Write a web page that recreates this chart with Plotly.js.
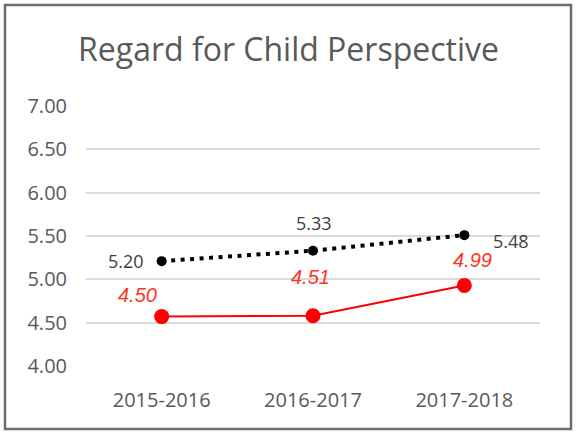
<!DOCTYPE html>
<html>
<head>
<meta charset="utf-8">
<script src="https://cdn.plot.ly/plotly-3.0.1.min.js"></script>
<style>
html,body{margin:0;padding:0;background:#fff;}
#chart{width:577px;height:433px;}
</style>
</head>
<body>
<div id="chart"></div>
<script>
// ---- data ----
const categories = ['2015-2016', '2016-2017', '2017-2018'];
const blackValues = [5.21, 5.33, 5.51];
const blackLabels = ['5.20', '5.33', '5.48'];
const redValues = [4.57, 4.58, 4.93];
const redLabels = ['4.50', '4.51', '4.99'];
const yTickVals = [4.0, 4.5, 5.0, 5.5, 6.0, 6.5, 7.0];
const yTickText = ['4.00', '4.50', '5.00', '5.50', '6.00', '6.50', '7.00'];
const chartTitle = 'Regard for Child Perspective';

// ---- layout geometry ----
const W = 577, H = 433;
const M = {l: 86, r: 37, t: 106, b: 67};
const PW = W - M.l - M.r, PH = H - M.t - M.b;
const px2x = p => (p - M.l) / PW;
const px2y = p => (H - M.b - p) / PH;

const blackShift = [[-36, 0], [1, 28], [47, -6]];
const redShift = [[-24, 22], [-3, 39], [8, 25]];

const annotations = [];
categories.forEach((c, i) => {
  annotations.push({
    x: c, y: blackValues[i], xref: 'x', yref: 'y', text: blackLabels[i],
    showarrow: false, xshift: blackShift[i][0], yshift: blackShift[i][1],
    font: {family: 'Open Sans', size: 18, color: '#404040'}
  });
  annotations.push({
    x: c, y: redValues[i], xref: 'x', yref: 'y', text: '<i>' + redLabels[i] + '</i>',
    showarrow: false, xshift: redShift[i][0], yshift: redShift[i][1],
    font: {family: 'Liberation Sans', size: 20, color: '#ff3322'}
  });
});

const traces = [
  {
    x: categories, y: blackValues, type: 'scatter', mode: 'lines+markers',
    line: {color: '#000000', width: 4, dash: '4px,5.5px'},
    marker: {color: '#000000', size: 10},
    hoverinfo: 'skip'
  },
  {
    x: categories, y: redValues, type: 'scatter', mode: 'lines+markers',
    line: {color: '#ff0000', width: 2},
    marker: {color: '#ff0000', size: 15},
    hoverinfo: 'skip'
  }
];

const layout = {
  width: W, height: H,
  margin: M,
  paper_bgcolor: '#ffffff', plot_bgcolor: '#ffffff',
  showlegend: false,
  title: {
    text: chartTitle, x: 0.5, xanchor: 'center', xref: 'container',
    y: 0.885, yanchor: 'middle', yref: 'container',
    font: {family: 'Open Sans', size: 32, color: '#595959'}
  },
  xaxis: {
    type: 'category', range: [-0.5, 2.5], showgrid: false, zeroline: false,
    showline: false, ticks: '', ticklabelstandoff: 20,
    tickfont: {family: 'Open Sans', size: 20, color: '#595959'},
    fixedrange: true
  },
  yaxis: {
    range: [4, 7], tickvals: yTickVals, ticktext: yTickText,
    showgrid: true, gridcolor: '#d9d9d9', gridwidth: 2, zeroline: false,
    showline: false, ticks: '', ticklabelstandoff: 18,
    tickfont: {family: 'Open Sans', size: 20, color: '#595959'},
    fixedrange: true
  },
  annotations: annotations,
  shapes: [{
    type: 'rect', xref: 'paper', yref: 'paper', layer: 'above',
    x0: px2x(5), x1: px2x(571), y0: px2y(429), y1: px2y(5),
    line: {color: '#6e6e6e', width: 2.5}, fillcolor: 'rgba(0,0,0,0)'
  }]
};

Plotly.newPlot('chart', traces, layout, {displayModeBar: false, staticPlot: true});
</script>
</body>
</html>
